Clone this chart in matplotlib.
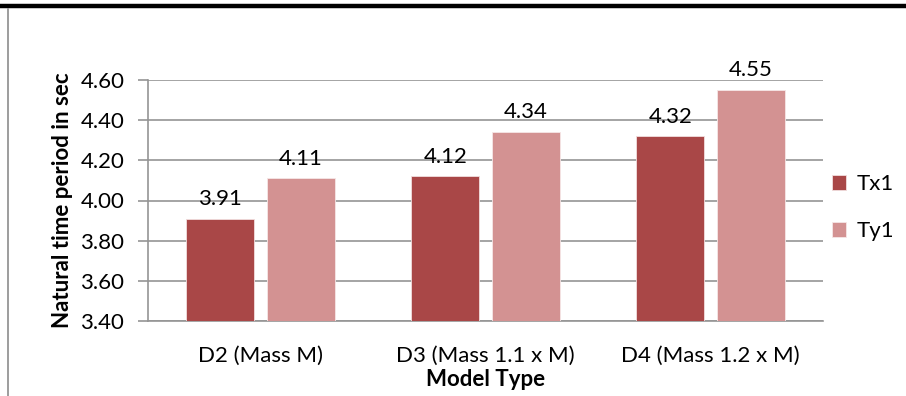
import matplotlib.pyplot as plt
import numpy as np
from matplotlib.lines import Line2D

plt.rcParams['font.family'] = ['Lato', 'DejaVu Sans']

models = ['D2 (Mass M)', 'D3 (Mass 1.1 x M)', 'D4 (Mass 1.2 x M)']
tx1 = [3.91, 4.12, 4.32]
ty1 = [4.11, 4.34, 4.55]
yticks = [3.40, 3.60, 3.80, 4.00, 4.20, 4.40, 4.60]

c_tx = '#A94747'
c_ty = '#D39292'
grid_c = '#959595'
fs = 16

fig = plt.figure(figsize=(9.06, 3.96), dpi=100)
ax = fig.add_axes([148/906, 1-321/396, (823-148)/906, (321-80)/396])

x = np.arange(len(models))
w = 0.30
off = 0.179
ax.bar(x - off, [v - 3.4 for v in tx1], w, bottom=3.4, color=c_tx,
       edgecolor='#f2dede', linewidth=0.6, zorder=3, label='Tx1')
ax.bar(x + off, [v - 3.4 for v in ty1], w, bottom=3.4, color=c_ty,
       edgecolor='#f6e6e6', linewidth=0.6, zorder=3, label='Ty1')

for xs, vals in ((x - off, tx1), (x + off, ty1)):
    for xi, v in zip(xs, vals):
        ax.annotate(f'{v:.2f}', (xi, v), xytext=(0, 7), textcoords='offset points',
                    ha='center', va='bottom', fontsize=fs, color='black',
                    annotation_clip=False, zorder=4)

ax.set_xlim(-0.5, 2.5)
ax.set_ylim(3.4, 4.6)
ax.set_yticks(yticks)
ax.set_yticklabels([f'{t:.2f}' for t in yticks], fontsize=fs)
ax.set_xticks(x)
ax.set_xticklabels(models, fontsize=fs)
ax.tick_params(axis='x', length=0, pad=18)
ax.tick_params(axis='y', length=7, width=1.2, color=grid_c, direction='out', pad=10)
ax.yaxis.grid(True, color=grid_c, linewidth=1.2, zorder=0)
ax.set_axisbelow(True)
for s in ('top', 'right'):
    ax.spines[s].set_visible(False)
for s in ('left', 'bottom'):
    ax.spines[s].set_color(grid_c)
    ax.spines[s].set_linewidth(1.2)

ax.set_ylabel('Natural time period in sec', fontsize=fs, fontweight='bold', labelpad=5)
fig.text((148+823)/2/906, 1-379/396, 'Model Type', fontsize=fs, fontweight='bold',
         ha='center', va='center')

ax.legend(loc='center left', bbox_to_anchor=(1.0, 0.47), frameon=False,
          fontsize=fs, handlelength=0.65, handleheight=0.65, labelspacing=1.2,
          handletextpad=0.45, borderaxespad=0.0)

# page border lines around the chart
fig.add_artist(Line2D([0, 1], [1-6/396, 1-6/396], color='black', lw=3.2))
fig.add_artist(Line2D([8/906, 8/906], [0, 1-9/396], color='#8c8c8c', lw=1.2))

fig.savefig('out.png', dpi=100)
